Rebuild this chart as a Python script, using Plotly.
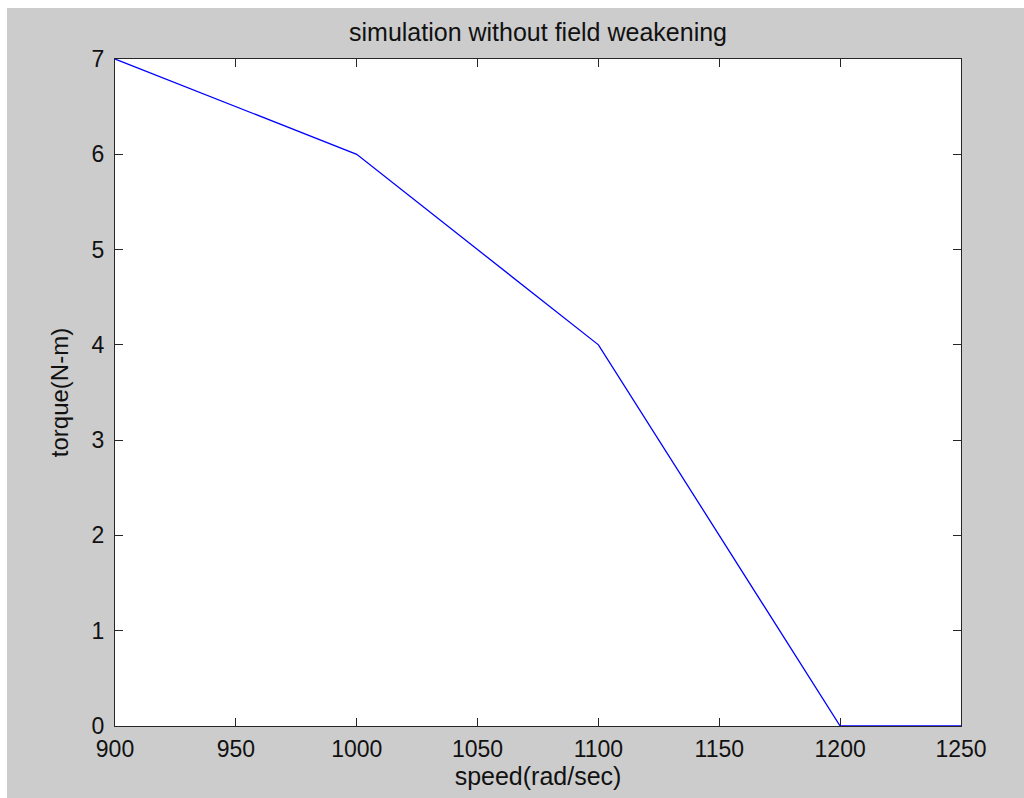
import plotly.graph_objects as go

speed = [900, 1000, 1100, 1200, 1250]
torque = [7, 6, 4, 0, 0]
x_ticks = [900, 950, 1000, 1050, 1100, 1150, 1200, 1250]
y_ticks = [0, 1, 2, 3, 4, 5, 6, 7]

W, H = 1024, 798
L, R, T, B = 115, 63, 59, 72
pw = W - L - R
ph = H - T - B

def px_to_paper_x(px):
    return (px - L) / pw

def px_to_paper_y(py):
    return (H - B - py) / ph

fig = go.Figure()
fig.add_trace(go.Scatter(x=speed, y=torque, mode="lines",
                         line=dict(color="#0000ff", width=1.3),
                         cliponaxis=False,
                         showlegend=False, hoverinfo="skip"))

font_family = "Liberation Sans, Arial, sans-serif"
axis_common = dict(
    showline=True, linecolor="#262626", linewidth=1, mirror="ticks",
    ticks="inside", ticklen=8, tickwidth=1, tickcolor="#262626",
    showgrid=False, zeroline=False, layer="below traces",
    tickfont=dict(family=font_family, size=23, color="#111111"),
)

fig.update_layout(
    width=W, height=H,
    margin=dict(l=L, r=R, t=T, b=B, pad=0),
    paper_bgcolor="white", plot_bgcolor="white",
    title=dict(text="simulation without field weakening",
               x=(L + pw / 2) / W, xanchor="center",
               y=1 - 32 / H, yanchor="middle",
               font=dict(family=font_family, size=25, color="#111111")),
    xaxis=dict(range=[900, 1250], tickvals=x_ticks, ticklabelstandoff=2,
               title=dict(text="speed(rad/sec)", standoff=2,
                          font=dict(family=font_family, size=25, color="#111111")),
               **axis_common),
    yaxis=dict(range=[0, 7], tickvals=y_ticks, ticklabelstandoff=5,
               title=dict(text="torque(N-m)", standoff=16,
                          font=dict(family=font_family, size=24, color="#111111")),
               **axis_common),
    shapes=[
        dict(type="rect", xref="paper", yref="paper", layer="below",
             x0=px_to_paper_x(7), x1=px_to_paper_x(W + 5),
             y0=px_to_paper_y(H + 5), y1=px_to_paper_y(8),
             fillcolor="#cccccc", line=dict(width=0)),
        dict(type="rect", xref="paper", yref="paper", layer="below",
             x0=0, x1=1, y0=0, y1=1,
             fillcolor="white", line=dict(width=0)),
    ],
)

fig.write_html("out.html")
